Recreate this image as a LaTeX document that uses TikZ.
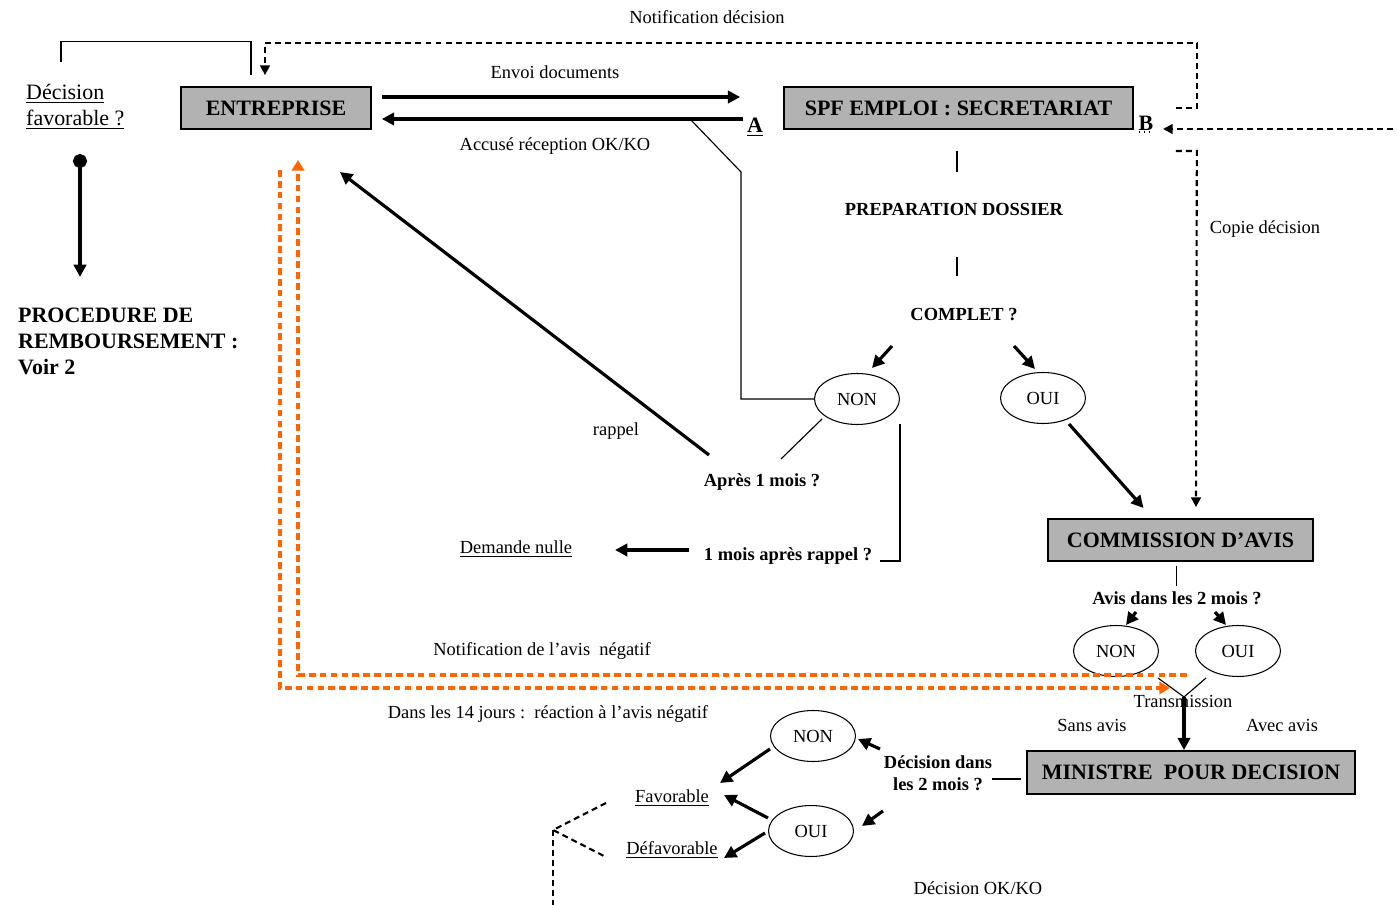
\documentclass[tikz,border=0pt]{standalone}
\usepackage{fontspec}
\setmainfont{Liberation Serif}
\usetikzlibrary{arrows.meta,shapes.geometric,positioning}
\definecolor{boxgray}{RGB}{178,178,178}
\definecolor{avisorange}{RGB}{255,102,0}
\tikzset{
  acteur/.style={draw,fill=boxgray,line width=1pt,inner sep=0pt,minimum height=0.84cm,
    font=\fontsize{12.5}{14}\selectfont\bfseries},
  choix/.style={draw,ellipse,line width=0.6pt,inner sep=0pt,minimum width=1.7cm,minimum height=1.02cm,
    font=\fontsize{10.5}{12}\selectfont},
  etiq/.style={font=\fontsize{10.5}{12}\selectfont},
  question/.style={font=\fontsize{10.5}{12.5}\selectfont\bfseries},
  fleche/.style={-{Triangle[length=7pt,width=7pt]},line width=1.8pt},
  trait/.style={line width=0.65pt},
  pointille/.style={line width=1.2pt,dash pattern=on 3.4pt off 2.3pt},
  pfleche/.style={pointille,-{Triangle[length=5.5pt,width=5.5pt]}},
  orangefleche/.style={draw=avisorange,line width=2pt,dash pattern=on 3.8pt off 2.4pt,
    -{Triangle[length=6pt,width=7pt]}}
}
\begin{document}
\begin{tikzpicture}[x=0.02cm,y=-0.02cm]
\useasboundingbox (0,0) rectangle (1397,905);

% acteurs
\node[acteur,minimum width=3.8cm] (entreprise) at (276,108) {ENTREPRISE};
\node[acteur,minimum width=6.98cm] (spf) at (958.5,108) {SPF EMPLOI : SECRETARIAT};
\node[acteur,minimum width=5.3cm] (commission) at (1180.5,540) {COMMISSION D’AVIS};
\node[acteur,minimum width=6.56cm,minimum height=0.86cm] (ministre) at (1191,772.5) {MINISTRE\ \ POUR DECISION};

% textes
\node[anchor=west,align=left,font=\fontsize{12.5}{14.5}\selectfont] (favq) at (20,107) {\underline{Décision}\\\underline{favorable ?}};
\node[anchor=west,align=left,font=\fontsize{12.5}{14.8}\selectfont\bfseries] (rembours) at (12,341) {PROCEDURE DE\\REMBOURSEMENT :\\Voir 2};
\node[etiq] (notifdec) at (707,17) {Notification décision};
\node[etiq] (envoi) at (555,72) {Envoi documents};
\node[etiq] (accuse) at (555,146) {Accusé réception OK/KO};
\node[font=\fontsize{12.5}{14}\selectfont\bfseries] (A) at (755,127) {\underline{A}};
\node[font=\fontsize{12.5}{14}\selectfont\bfseries] (B) at (1146,123) {B};
\draw[dotted,line width=0.8pt] ([shift={(-7,9)}]B.center) -- ([shift={(7,9)}]B.center);
\node[etiq] (copie) at (1265,229) {Copie décision};
\node[question] (prep) at (954,209) {PREPARATION DOSSIER};
\node[question] (complet) at (964,315) {COMPLET ?};
\node[choix] (non1) at (857,399) {NON};
\node[choix] (oui1) at (1043,398) {OUI};
\node[etiq] (rappel) at (616,431) {rappel};
\node[question] (apres) at (762,482) {Après 1 mois ?};
\node[question] (moisrappel) at (788,556) {1 mois après rappel ?};
\node[etiq] (nulle) at (516,549) {\underline{Demande nulle}};
\node[question] (avis) at (1177,598) {Avis dans les 2 mois ?};
\node[choix] (non2) at (1116,651) {NON};
\node[choix] (oui2) at (1238,651) {OUI};
\node[etiq] (notifneg) at (542,651) {Notification de l’avis\ \ négatif};
\node[etiq] (reaction) at (548,714) {Dans les 14 jours :\ \ réaction à l’avis négatif};
\node[etiq] (transm) at (1183,701) {Transmission};
\node[etiq] (sans) at (1092,725) {Sans avis};
\node[etiq] (avec) at (1282,725) {Avec avis};
\node[question,align=center] (decdans) at (938,773) {Décision dans\\les 2 mois ?};
\node[choix] (non3) at (813,736) {NON};
\node[choix] (oui3) at (811,831) {OUI};
\node[etiq] (fav) at (672,798) {\underline{Favorable}};
\node[etiq] (defav) at (672,850) {\underline{Défavorable}};
\node[etiq] (okko) at (978,888) {Décision OK/KO};

\coordinate (favhaut) at (61,62);
\coordinate (bille) at (80,154);
\coordinate (billebas) at (80,277);
\coordinate (bsource) at (1393,129);
\coordinate (jonction) at (1184,697);
\coordinate (fourche) at (553,830);
\coordinate (fourchebas) at (553,905);

% liaisons entreprise / secretariat
\draw[trait] (favhaut) |- ([shift={(-25,-45)}]entreprise.north) -- ([shift={(-25,-11)}]entreprise.north);
\draw[line width=1.8pt,{Circle[length=8pt]}-{Triangle[length=7pt,width=7pt]}] (bille) -- (billebas);
\draw[fleche] ([shift={(10,-11)}]entreprise.east) -- ([shift={(-43,-11)}]spf.west);
\draw[fleche] ([shift={(-40,11)}]spf.west) -- ([shift={(10,11)}]entreprise.east);
\draw[pfleche] ([shift={(42,0)}]spf.east) -- ++(21,0) |- ([shift={(-11,-43)}]entreprise.north) -- ([shift={(-11,-11)}]entreprise.north);
\draw[pfleche] (bsource) -- ([shift={(17,6)}]B.center);
\draw[pfleche] ([shift={(42,43)}]spf.east) -- ++(21,0) -- ([shift={(15.5,-11)}]commission.north);
\draw[trait] ([shift={(-65,-8)}]A.center) -- ([shift={(-14,45)}]A.center) |- (non1.west);

% preparation du dossier
\draw[trait] ([shift={(-1.5,21)}]spf.south) -- ++(0,21);
\draw[trait] ([shift={(3,48)}]prep.center) -- ++(0,19);
\draw[fleche] ([shift={(-72,31)}]complet.center) -- ([shift={(15,-31)}]non1.center);
\draw[fleche] ([shift={(50,31)}]complet.center) -- ([shift={(-8,-29)}]oui1.center);
\draw[fleche] ([shift={(26,26)}]oui1.center) -- ([shift={(-37,-32)}]commission.center);
\draw[fleche] ([shift={(-53,-27)}]apres.center) -- ([shift={(64,64)}]entreprise.center);
\draw[trait] ([shift={(-35,20)}]non1.center) -- ([shift={(19,-23)}]apres.center);
\draw[trait] ([shift={(43,25)}]non1.center) |- ([shift={(92,5)}]moisrappel.center);
\draw[fleche] ([shift={(-99,-6)}]moisrappel.center) -- ([shift={(99,1)}]nulle.center);

% commission d'avis
\draw[trait] ([shift={(-4,4)}]commission.south) -- ++(0,20);
\draw[fleche] ([shift={(-41,14)}]avis.center) -- ([shift={(10,-26)}]non2.center);
\draw[fleche] ([shift={(38,14)}]avis.center) -- ([shift={(-12,-26)}]oui2.center);
\draw[trait] ([shift={(42,27)}]non2.center) -- (jonction);
\draw[trait] ([shift={(-32,27)}]oui2.center) -- (jonction);
\draw[fleche] (jonction) -- ([shift={(-7,0)}]ministre.north);
\draw[orangefleche] ([shift={(71,24)}]non2.center) -| ([shift={(22,52)}]entreprise.center);
\draw[orangefleche] ([shift={(4,62)}]entreprise.center) |- ([shift={(54,37)}]non2.center);

% decision du ministre
\draw[trait] ([shift={(-5,6.5)}]ministre.west) -- ++(-29,0);
\draw[fleche] ([shift={(-58,-24)}]decdans.center) -- ([shift={(45,3)}]non3.center);
\draw[fleche] ([shift={(-55,38)}]decdans.center) -- ([shift={(51,-5)}]oui3.center);
\draw[fleche] ([shift={(-43,13)}]non3.center) -- ([shift={(48,-15)}]fav.center);
\draw[fleche] ([shift={(-43,-13)}]oui3.center) -- ([shift={(52,-3)}]fav.center);
\draw[fleche] ([shift={(-46,2)}]oui3.center) -- ([shift={(52,8)}]defav.center);
\draw[pointille] ([shift={(-66,5)}]fav.center) -- (fourche) -- ([shift={(-66,7)}]defav.center);
\draw[pointille] (fourche) -- (fourchebas);
\end{tikzpicture}
\end{document}
